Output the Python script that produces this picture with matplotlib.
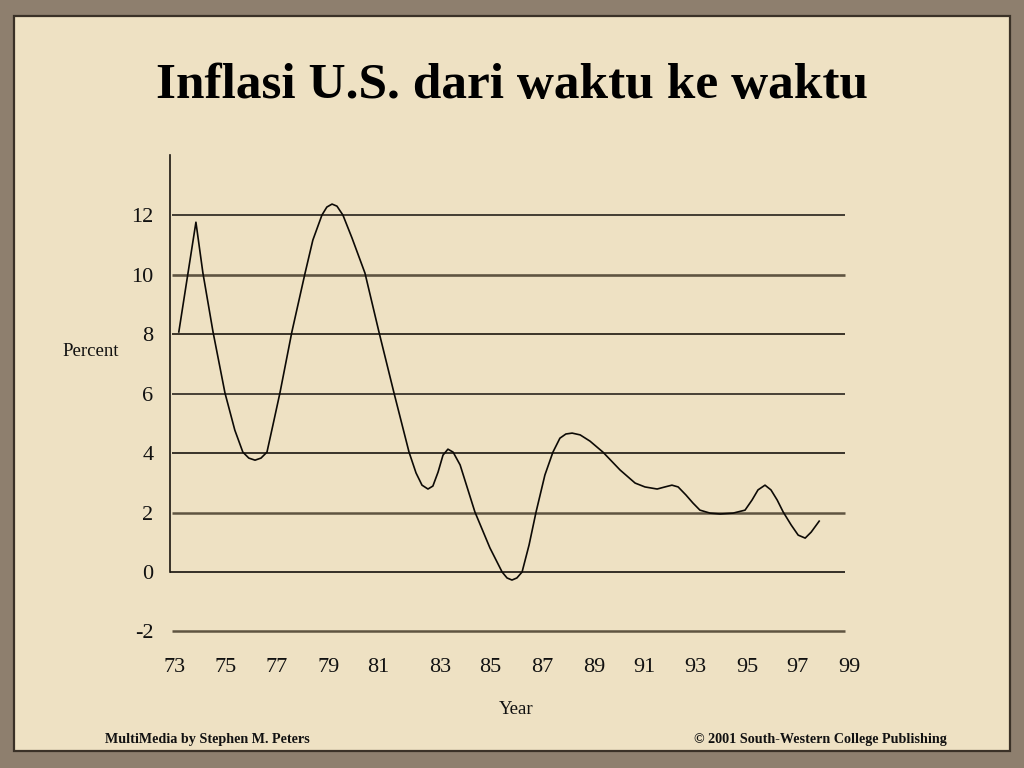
import matplotlib
matplotlib.use('Agg')
import matplotlib.pyplot as plt
from matplotlib.patches import Rectangle

# ---- data (year, percent) ----
years = [73.15, 73.81, 74.08, 74.47, 74.93, 75.31, 75.62, 75.85, 76.09, 76.32,
         76.55, 76.78, 77.05, 77.51, 78.02, 78.32, 78.67, 78.86, 79.06, 79.25,
         79.48, 79.83, 80.33, 80.87, 81.45, 82.03, 82.30, 82.53, 82.76, 82.95,
         83.15, 83.34, 83.53, 83.73, 84.00, 84.57, 85.15, 85.62, 85.81, 86.00,
         86.19, 86.39, 86.66, 86.93, 87.27, 87.58, 87.85, 88.08, 88.32, 88.63,
         89.01, 89.51, 90.17, 90.75, 91.13, 91.60, 91.90, 92.17, 92.41, 92.71,
         92.98, 93.25, 93.64, 94.03, 94.53, 94.99, 95.26, 95.49, 95.76, 95.99,
         96.23, 96.46, 96.77, 97.04, 97.31, 97.54, 97.85]
inflation = [8.07, 11.76, 10.05, 8.07, 6.02, 4.77, 4.03, 3.83, 3.76, 3.83,
             4.03, 4.94, 6.02, 8.07, 10.05, 11.16, 12.00, 12.27, 12.37, 12.30,
             12.00, 11.23, 10.05, 8.07, 6.02, 4.03, 3.33, 2.92, 2.79, 2.89,
             3.36, 3.93, 4.13, 4.03, 3.60, 2.02, 0.81, 0.00, -0.20, -0.27,
             -0.20, 0.00, 0.91, 2.02, 3.26, 4.03, 4.50, 4.64, 4.67, 4.61,
             4.40, 4.03, 3.43, 2.99, 2.86, 2.79, 2.86, 2.92, 2.86, 2.59,
             2.32, 2.08, 1.98, 1.95, 1.98, 2.08, 2.42, 2.76, 2.92, 2.76,
             2.42, 2.02, 1.58, 1.24, 1.14, 1.34, 1.71]

y_ticks = [12, 10, 8, 6, 4, 2, 0, -2]
y_tick_labels = ['12', '10', '8', '6', '4', '2', '0', '-2']
x_tick_pos = [73.0, 74.97, 76.94, 78.94, 80.83, 83.22, 85.15, 87.16, 89.17,
              91.09, 93.06, 95.07, 97.0, 99.0]
x_tick_labels = ['73', '75', '77', '79', '81', '83', '85', '87', '89', '91',
                 '93', '95', '97', '99']

title = 'Inflasi U.S. dari waktu ke waktu'
ylabel = 'Percent'
xlabel = 'Year'
footer_left = 'MultiMedia by Stephen M. Peters'
footer_right = '\u00a9 2001 South-Western College Publishing'

# ---- figure ----
SERIF = ['Liberation Serif', 'DejaVu Serif']
W, H = 1024, 768
fig = plt.figure(figsize=(10.24, 7.68), dpi=100, facecolor='#8e7f6e')

fig.patches.append(Rectangle((14 / W, 1 - 751 / H), (1010 - 14) / W, (751 - 16) / H,
                             transform=fig.transFigure, facecolor='#eee1c3',
                             edgecolor='#3a3127', lw=1.6, zorder=-5))

ax = fig.add_axes([170 / W, 1 - 640 / H, 700 / W, (640 - 155) / H])
ax.set_zorder(2)
ax.set_facecolor('none')
ax.set_xlim(72.81, 99.81)
ax.set_ylim(-2.286, 14.02)

for s in ['top', 'right', 'bottom']:
    ax.spines[s].set_visible(False)
ax.spines['left'].set_bounds(0, 14.02)
ax.spines['left'].set_color('#1a1510')
ax.spines['left'].set_linewidth(1.2)

grid_styles = {12: ('#15110c', 1.1), 10: ('#5f5441', 1.9), 8: ('#2d261c', 1.3),
               6: ('#1a150f', 1.1), 4: ('#1a150f', 1.2), 2: ('#5f5441', 1.8),
               0: ('#15110c', 1.2), -2: ('#5f5441', 1.8)}
for lev in y_ticks:
    c, lw = grid_styles[lev]
    x0 = 72.81 if lev == 0 else 72.88
    ax.hlines(lev, x0, 98.85, colors=c, linewidth=lw, zorder=1)

ax.plot(years, inflation, color='#0d0a06', linewidth=1.2, zorder=3,
        solid_joinstyle='round')

ax.set_yticks(y_ticks)
ax.set_yticklabels(y_tick_labels, fontfamily=SERIF, fontsize=16)
ax.set_xticks(x_tick_pos)
ax.set_xticklabels(x_tick_labels, fontfamily=SERIF, fontsize=16)
ax.tick_params(axis='y', length=0, pad=12, colors='#111')
ax.tick_params(axis='x', length=0, pad=13, colors='#111')

fig.text(512 / W, 1 - 86 / H, title, ha='center', va='center',
         fontfamily=SERIF, fontsize=37, fontweight='bold', color='black')
fig.text(91 / W, 1 - 351 / H, ylabel, ha='center', va='center',
         fontfamily=SERIF, fontsize=13.5, color='#111')
fig.text(516 / W, 1 - 710 / H, xlabel, ha='center', va='center',
         fontfamily=SERIF, fontsize=13.5, color='#111')
fig.text(105 / W, 1 - 740 / H, footer_left, ha='left', va='center',
         fontfamily=SERIF, fontsize=10.2, fontweight='bold', color='#111')
fig.text(947 / W, 1 - 740 / H, footer_right, ha='right', va='center',
         fontfamily=SERIF, fontsize=10.2, fontweight='bold', color='#111')

fig.savefig('out.png', dpi=100, facecolor=fig.get_facecolor())
